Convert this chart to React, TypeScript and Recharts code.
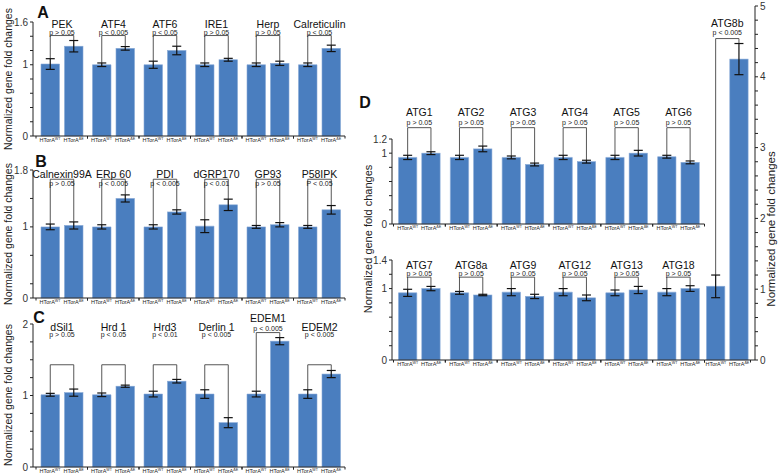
import React from 'react';
import { BarChart, Bar, XAxis, YAxis, ErrorBar } from 'recharts';

const FONT = 'Arial, "Liberation Sans", Helvetica, sans-serif';
const BLUE = '#4a7ebf';
const EDGE = '#86a8d6';
const GAP = 5;

// A - UPR genes
const genesA = ['PEK', 'ATF4', 'ATF6', 'IRE1', 'Herp', 'Calreticulin'];
const wtA = [1.01, 1.0, 1.0, 1.0, 1.0, 1.0];
const wtErrA = [0.075, 0.025, 0.05, 0.025, 0.025, 0.025];
const dlA = [1.26, 1.23, 1.2, 1.07, 1.02, 1.23];
const dlErrA = [0.08, 0.025, 0.06, 0.02, 0.03, 0.045];
const pA = ['p > 0.05', 'p < 0.005', 'p < 0.05', 'p > 0.05', 'p > 0.05', 'p < 0.05'];
const brA = [1.41, 1.41, 1.41, 1.41, 1.41, 1.41];
const ticksA = [0, 0.2, 0.4, 0.6, 0.8, 1, 1.2, 1.4, 1.6];
const labelsA = [0, 1, 1.6];

// B - chaperones
const genesB = ['Calnexin99A', 'ERp 60', 'PDI', 'dGRP170', 'GP93', 'P58IPK'];
const wtB = [1.0, 1.0, 1.0, 1.01, 1.0, 1.0];
const wtErrB = [0.04, 0.03, 0.03, 0.09, 0.02, 0.02];
const dlB = [1.02, 1.4, 1.21, 1.31, 1.03, 1.24];
const dlErrB = [0.05, 0.05, 0.03, 0.08, 0.03, 0.06];
const pB = ['p > 0.05', 'p < 0.005', 'p < 0.005', 'p < 0.01', 'p > 0.05', 'P < 0.05'];
const brB = [1.67, 1.67, 1.67, 1.67, 1.67, 1.67];
const ticksB = [0, 0.2, 0.6, 1, 1.4, 1.8];
const labelsB = [0, 1, 1.8];

// C - ERAD
const genesC = ['dSil1', 'Hrd 1', 'Hrd3', 'Derlin 1', 'EDEM1', 'EDEM2'];
const wtC = [1.01, 1.01, 1.02, 1.02, 1.02, 1.02];
const wtErrC = [0.02, 0.025, 0.04, 0.06, 0.04, 0.06];
const dlC = [1.04, 1.13, 1.2, 0.62, 1.76, 1.3];
const dlErrC = [0.05, 0.015, 0.025, 0.07, 0.05, 0.05];
const pC = ['p > 0.05', 'p < 0.05', 'p < 0.01', 'p < 0.005', 'p < 0.005', 'p < 0.005'];
const brC = [1.43, 1.43, 1.43, 1.43, 1.88, 1.43];
const ticksC = [0, 0.25, 0.5, 0.75, 1, 1.25, 1.5, 1.75, 2];
const labelsC = [0, 1, 2];

// D - autophagy, top row
const genesD1 = ['ATG1', 'ATG2', 'ATG3', 'ATG4', 'ATG5', 'ATG6'];
const wtD1 = [0.94, 0.94, 0.94, 0.94, 0.94, 0.95];
const wtErrD1 = [0.03, 0.03, 0.02, 0.03, 0.03, 0.02];
const dlD1 = [1.0, 1.06, 0.84, 0.88, 1.0, 0.87];
const dlErrD1 = [0.02, 0.04, 0.02, 0.02, 0.04, 0.02];
const pD1 = ['p > 0.05', 'p > 0.05', 'p > 0.05', 'p > 0.05', 'p > 0.05', 'p > 0.05'];
const brD1 = [1.36, 1.36, 1.36, 1.36, 1.36, 1.36];
const ticksD1 = [0, 0.2, 0.4, 0.6, 0.8, 1, 1.2];
const labelsD1 = [0, 1, 1.2];

// D - autophagy, bottom row
const genesD2 = ['ATG7', 'ATG8a', 'ATG9', 'ATG12', 'ATG13', 'ATG18'];
const wtD2 = [0.94, 0.94, 0.95, 0.95, 0.94, 0.95];
const wtErrD2 = [0.05, 0.02, 0.05, 0.05, 0.04, 0.05];
const dlD2 = [1.0, 0.91, 0.89, 0.87, 0.98, 1.0];
const dlErrD2 = [0.03, 0.01, 0.03, 0.04, 0.05, 0.04];
const pD2 = ['p > 0.05', 'p > 0.05', 'p > 0.05', 'p > 0.05', 'p > 0.05', 'p > 0.05'];
const brD2 = [1.16, 1.16, 1.16, 1.16, 1.16, 1.16];
const ticksD2 = [0, 0.2, 0.4, 0.6, 0.8, 1, 1.2, 1.4];
const labelsD2 = [0, 1, 1.4];

// D - ATG8b on the right axis
const genes8b = ['ATG8b'];
const wt8b = [1.04];
const wtErr8b = [0.16];
const dl8b = [4.25];
const dlErr8b = [0.22];
const p8b = ['p < 0.005'];
const br8b = [4.54];
const ticks8b = [0, 0.2, 0.4, 0.6, 0.8, 1, 1.2, 1.4, 1.6, 1.8, 2, 2.2, 2.4, 2.6, 2.8, 3, 3.2, 3.4, 3.6, 3.8, 4, 4.2, 4.4, 4.6, 4.8, 5];
const labels8b = [0, 1, 2, 3, 4, 5];

type PanelProps = {
  genes: string[];
  wt: number[];
  wtErr: number[];
  dl: number[];
  dlErr: number[];
  pv: string[];
  br: number[];
  left: number;
  top: number;
  width: number;
  height: number;
  mTop: number;
  mLeft: number;
  mRight: number;
  yWidth: number;
  right?: boolean;
  padL: number;
  padR: number;
  yMax: number;
  ticks: number[];
  labels: number[];
  titleDy: number;
  pDy: number;
  lift?: boolean;
  barSize: number;
};

function GenePanel(p: PanelProps) {
  const rows = p.genes.map((g, i) => ({
    gene: g,
    wt: p.wt[i],
    wtErr: p.wtErr[i],
    dl: p.dl[i],
    dlErr: p.dlErr[i],
    p: p.pv[i],
    br: p.br[i],
  }));
  const plotW = p.width - p.mLeft - p.mRight - p.yWidth - p.padL - p.padR;
  const band = plotW / rows.length;
  const step = p.barSize + GAP;

  // mutant bar + the comparison bracket and labels of its group
  const drawDl = (s: any) => {
    const { x, y, width, height, payload } = s;
    const base = y + height;
    const k = height / payload.dl;
    const py = (v: number) => base - v * k;
    const cDl = x + width / 2;
    const cWt = cDl - step;
    const mid = (cWt + cDl) / 2;
    const top = py(p.yMax);
    const by = py(payload.br);
    let ty = top + p.titleDy;
    let qy = top + p.pDy;
    if (p.lift) {
      ty = Math.min(ty, by - 14);
      qy = Math.min(qy, by - 4.5);
    }
    return (
      <g>
        <rect x={x} y={y} width={width} height={height} fill={BLUE} stroke={EDGE} strokeWidth={0.6} />
        <path
          d={`M${cWt},${py(payload.wt + payload.wtErr)}V${by}H${cDl}V${py(payload.dl + payload.dlErr)}`}
          fill="none"
          stroke="#444"
          strokeWidth={0.9}
        />
        <text x={mid} y={ty} dy="0.35em" textAnchor="middle" fontSize={10.5} fill="#111" fontFamily={FONT}>
          {payload.gene}
        </text>
        <text x={mid} y={qy} dy="0.35em" textAnchor="middle" fontSize={7} fill="#222" fontFamily={FONT}>
          {payload.p}
        </text>
      </g>
    );
  };

  const groupTick = (t: any) => {
    const { x, y } = t;
    return (
      <g>
        <text x={x - step / 2} y={y + 6} textAnchor="middle" fontSize={5.5} fill="#222" fontFamily={FONT}>
          HTorA
          <tspan dy={-2} fontSize={3.6}>WT</tspan>
        </text>
        <text x={x + step / 2} y={y + 6} textAnchor="middle" fontSize={5.5} fill="#222" fontFamily={FONT}>
          HTorA
          <tspan dy={-2} fontSize={3.6}>ΔE</tspan>
        </text>
        <line x1={x - band / 2} y1={y} x2={x - band / 2} y2={y + 2.5} stroke="#222" />
        <line x1={x + band / 2} y1={y} x2={x + band / 2} y2={y + 2.5} stroke="#222" />
      </g>
    );
  };

  return (
    <div style={{ position: 'absolute', left: p.left, top: p.top }}>
      <BarChart
        width={p.width}
        height={p.height}
        data={rows}
        margin={{ top: p.mTop, right: p.mRight, bottom: 0, left: p.mLeft }}
        barSize={p.barSize}
        barGap={GAP}
      >
        <XAxis
          dataKey="gene"
          interval={0}
          height={10}
          tickLine={false}
          tickSize={0}
          tickMargin={0}
          axisLine={{ stroke: '#222' }}
          padding={{ left: p.padL, right: p.padR }}
          tick={groupTick}
        />
        <YAxis
          orientation={p.right ? 'right' : 'left'}
          domain={[0, p.yMax]}
          ticks={p.ticks}
          interval={0}
          width={p.yWidth}
          tickSize={3}
          tickMargin={2}
          tickFormatter={(v: number) => (p.labels.includes(v) ? String(v) : '')}
          tick={{ fontSize: 10, fill: '#333', fontFamily: FONT }}
          axisLine={{ stroke: '#222' }}
          tickLine={{ stroke: '#222' }}
        />
        <Bar dataKey="wt" fill={BLUE} stroke={EDGE} strokeWidth={0.6} isAnimationActive={false}>
          <ErrorBar dataKey="wtErr" width={4.5} stroke="#111" strokeWidth={1.2} />
        </Bar>
        <Bar dataKey="dl" fill={BLUE} shape={drawDl} isAnimationActive={false}>
          <ErrorBar dataKey="dlErr" width={4.5} stroke="#111" strokeWidth={1.2} />
        </Bar>
      </BarChart>
    </div>
  );
}

const YTITLE = 'Normalized gene fold changes';

export default function App() {
  return (
    <div
      style={{
        position: 'absolute',
        left: 0,
        top: 0,
        width: 778,
        height: 475,
        background: '#fff',
        overflow: 'hidden',
        fontFamily: FONT,
      }}
    >
      <GenePanel genes={genesA} wt={wtA} wtErr={wtErrA} dl={dlA} dlErr={dlErrA} pv={pA} br={brA}
        left={0} top={0} width={350} height={146} mTop={22} mLeft={0} mRight={5} yWidth={33}
        padL={3} padR={0} yMax={1.6} ticks={ticksA} labels={labelsA} titleDy={2} pDy={10.5} barSize={18.5} />
      <GenePanel genes={genesB} wt={wtB} wtErr={wtErrB} dl={dlB} dlErr={dlErrB} pv={pB} br={brB}
        left={0} top={148} width={350} height={160} mTop={22} mLeft={0} mRight={5} yWidth={33}
        padL={3} padR={0} yMax={1.8} ticks={ticksB} labels={labelsB} titleDy={4.5} pDy={13.7} barSize={18.5} />
      <GenePanel genes={genesC} wt={wtC} wtErr={wtErrC} dl={dlC} dlErr={dlErrC} pv={pC} br={brC}
        left={0} top={302} width={350} height={175} mTop={22} mLeft={0} mRight={5} yWidth={33}
        padL={3} padR={0} yMax={2} ticks={ticksC} labels={labelsC} titleDy={3} pDy={11} lift barSize={18.5} />
      <GenePanel genes={genesD1} wt={wtD1} wtErr={wtErrD1} dl={dlD1} dlErr={dlErrD1} pv={pD1} br={brD1}
        left={340} top={90} width={370} height={144} mTop={49} mLeft={0} mRight={5.5} yWidth={52}
        padL={1.5} padR={0} yMax={1.2} ticks={ticksD1} labels={labelsD1} titleDy={-27} pDy={-16} barSize={18.3} />
      <GenePanel genes={genesD2} wt={wtD2} wtErr={wtErrD2} dl={dlD2} dlErr={dlErrD2} pv={pD2} br={brD2}
        left={340} top={238} width={370} height={132} mTop={22} mLeft={0} mRight={5.5} yWidth={52}
        padL={1.5} padR={0} yMax={1.4} ticks={ticksD2} labels={labelsD2} titleDy={5} pDy={13.3} barSize={18.3} />
      <GenePanel genes={genes8b} wt={wt8b} wtErr={wtErr8b} dl={dl8b} dlErr={dlErr8b} pv={p8b} br={br8b}
        left={700} top={0} width={78} height={370} mTop={6} mLeft={4.5} mRight={0} yWidth={23} right
        padL={0} padR={4.5} yMax={5} ticks={ticks8b} labels={labels8b} titleDy={17} pDy={27} barSize={18.3} />

      <svg width={778} height={475} style={{ position: 'absolute', left: 0, top: 0, pointerEvents: 'none' }} fontFamily={FONT}>
        <text x={43} y={12} dy="0.35em" textAnchor="middle" fontSize={16} fontWeight="bold" fill="#111">A</text>
        <text x={41} y={161} dy="0.35em" textAnchor="middle" fontSize={16} fontWeight="bold" fill="#111">B</text>
        <text x={39} y={317} dy="0.35em" textAnchor="middle" fontSize={16} fontWeight="bold" fill="#111">C</text>
        <text x={365} y={102} dy="0.35em" textAnchor="middle" fontSize={16} fontWeight="bold" fill="#111">D</text>
        <text transform="translate(8.5,79) rotate(-90)" dy="0.35em" textAnchor="middle" fontSize={10.5} fill="#222">{YTITLE}</text>
        <text transform="translate(8.5,234) rotate(-90)" dy="0.35em" textAnchor="middle" fontSize={10.5} fill="#222">{YTITLE}</text>
        <text transform="translate(8.5,395) rotate(-90)" dy="0.35em" textAnchor="middle" fontSize={10.5} fill="#222">{YTITLE}</text>
        <text transform="translate(368,239) rotate(-90)" dy="0.35em" textAnchor="middle" fontSize={11} fill="#222">{YTITLE}</text>
        <text transform="translate(771,229) rotate(-90)" dy="0.35em" textAnchor="middle" fontSize={11.5} fill="#222">{YTITLE}</text>
      </svg>
    </div>
  );
}
